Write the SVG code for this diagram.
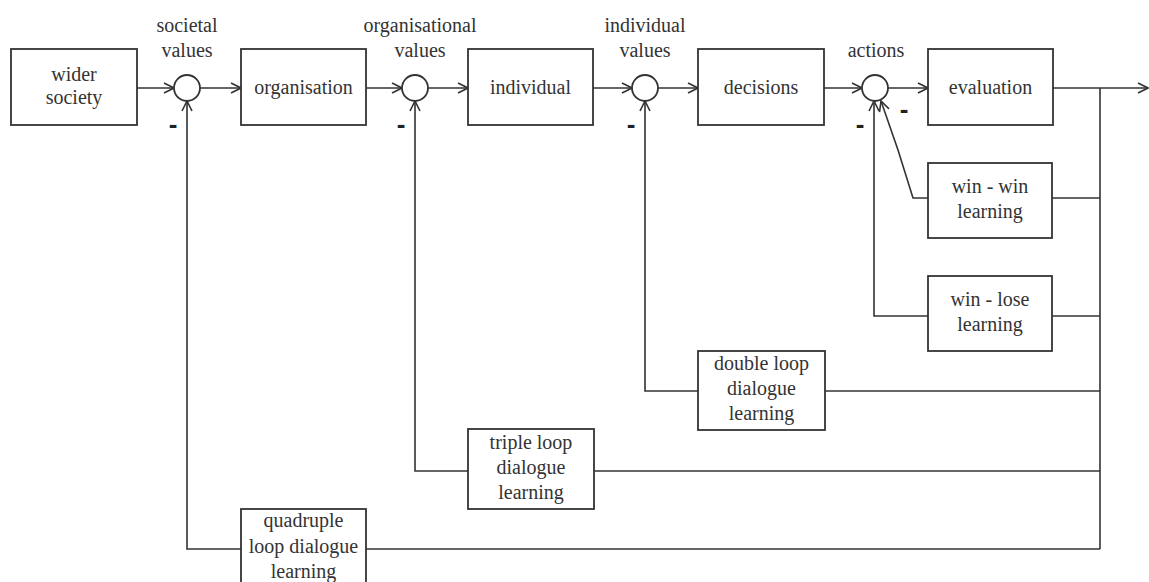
<svg xmlns="http://www.w3.org/2000/svg" width="1149" height="582" viewBox="0 0 1149 582">
<defs>
<marker id="arr" viewBox="0 0 12 12" refX="11" refY="6" markerWidth="12" markerHeight="12" markerUnits="userSpaceOnUse" orient="auto">
<path d="M1,1 L11,6 L1,11" fill="none" stroke="#333" stroke-width="1.6"/>
</marker>
</defs>
<style>
.box{fill:#fff;stroke:#333;stroke-width:1.8}
.sum{fill:#fff;stroke:#333;stroke-width:1.8}
.ln{fill:none;stroke:#333;stroke-width:1.6}
.t{font-family:"Liberation Serif","Times New Roman",serif;font-size:20px;fill:#333;text-anchor:middle}
.m{font-family:"Liberation Sans",Arial,sans-serif;font-size:26px;font-weight:bold;fill:#222;text-anchor:middle}
</style>
<rect width="1149" height="582" fill="#fff"/>
<g id="connectors">
<line class="ln" x1="137" y1="88" x2="174" y2="88" marker-end="url(#arr)"/>
<line class="ln" x1="200" y1="88" x2="241" y2="88" marker-end="url(#arr)"/>
<line class="ln" x1="366" y1="88" x2="402" y2="88" marker-end="url(#arr)"/>
<line class="ln" x1="428" y1="88" x2="468" y2="88" marker-end="url(#arr)"/>
<line class="ln" x1="593" y1="88" x2="632" y2="88" marker-end="url(#arr)"/>
<line class="ln" x1="658" y1="88" x2="698" y2="88" marker-end="url(#arr)"/>
<line class="ln" x1="824" y1="88" x2="862" y2="88" marker-end="url(#arr)"/>
<line class="ln" x1="888" y1="88" x2="928" y2="88" marker-end="url(#arr)"/>
<line class="ln" x1="1053" y1="88" x2="1148" y2="88" marker-end="url(#arr)"/>
<polyline class="ln" points="1100,88 1100,549"/>
<polyline class="ln" points="1100,198 1052,198"/>
<polyline class="ln" points="928,198 913,198 898,150 881,101" marker-end="url(#arr)"/>
<polyline class="ln" points="1100,316 1052,316"/>
<polyline class="ln" points="928,316 874,316 874,101" marker-end="url(#arr)"/>
<polyline class="ln" points="1100,391 825,391"/>
<polyline class="ln" points="698,391 645,391 645,101" marker-end="url(#arr)"/>
<polyline class="ln" points="1100,471 594,471"/>
<polyline class="ln" points="468,471 415,471 415,101" marker-end="url(#arr)"/>
<polyline class="ln" points="1100,549 366,549"/>
<polyline class="ln" points="241,549 187,549 187,101" marker-end="url(#arr)"/>
</g>
<g id="sum1"><circle class="sum" cx="187" cy="88" r="13"/><text class="t" x="187" y="32">societal</text><text class="t" x="187" y="57">values</text><text class="m" x="173" y="133">-</text></g>
<g id="sum2"><circle class="sum" cx="415" cy="88" r="13"/><text class="t" x="420" y="32">organisational</text><text class="t" x="420" y="57">values</text><text class="m" x="401" y="133">-</text></g>
<g id="sum3"><circle class="sum" cx="645" cy="88" r="13"/><text class="t" x="645" y="32">individual</text><text class="t" x="645" y="57">values</text><text class="m" x="631" y="133">-</text></g>
<g id="sum4"><circle class="sum" cx="875" cy="88" r="13"/><text class="t" x="876" y="57">actions</text><text class="m" x="860" y="133">-</text><text class="m" x="904" y="118">-</text></g>
<g id="wider-society"><rect class="box" x="11" y="49" width="126" height="76"/><text class="t" x="74" y="81">wider</text><text class="t" x="74" y="104">society</text></g>
<g id="organisation"><rect class="box" x="241" y="49" width="125" height="76"/><text class="t" x="303.5" y="94">organisation</text></g>
<g id="individual"><rect class="box" x="468" y="49" width="125" height="76"/><text class="t" x="530.5" y="94">individual</text></g>
<g id="decisions"><rect class="box" x="698" y="49" width="126" height="76"/><text class="t" x="761" y="94">decisions</text></g>
<g id="evaluation"><rect class="box" x="928" y="49" width="125" height="76"/><text class="t" x="990.5" y="94">evaluation</text></g>
<g id="win-win"><rect class="box" x="928" y="163" width="124" height="75"/><text class="t" x="990" y="193">win - win</text><text class="t" x="990" y="218">learning</text></g>
<g id="win-lose"><rect class="box" x="928" y="276" width="124" height="75"/><text class="t" x="990" y="306">win - lose</text><text class="t" x="990" y="331">learning</text></g>
<g id="double-loop"><rect class="box" x="698" y="351" width="127" height="79"/><text class="t" x="761.5" y="370">double loop</text><text class="t" x="761.5" y="395">dialogue</text><text class="t" x="761.5" y="420">learning</text></g>
<g id="triple-loop"><rect class="box" x="468" y="429" width="126" height="80"/><text class="t" x="531" y="449">triple loop</text><text class="t" x="531" y="474">dialogue</text><text class="t" x="531" y="499">learning</text></g>
<g id="quadruple-loop"><rect class="box" x="241" y="509" width="125" height="80"/><text class="t" x="303.5" y="527">quadruple</text><text class="t" x="303.5" y="553">loop dialogue</text><text class="t" x="303.5" y="578">learning</text></g>
</svg>
